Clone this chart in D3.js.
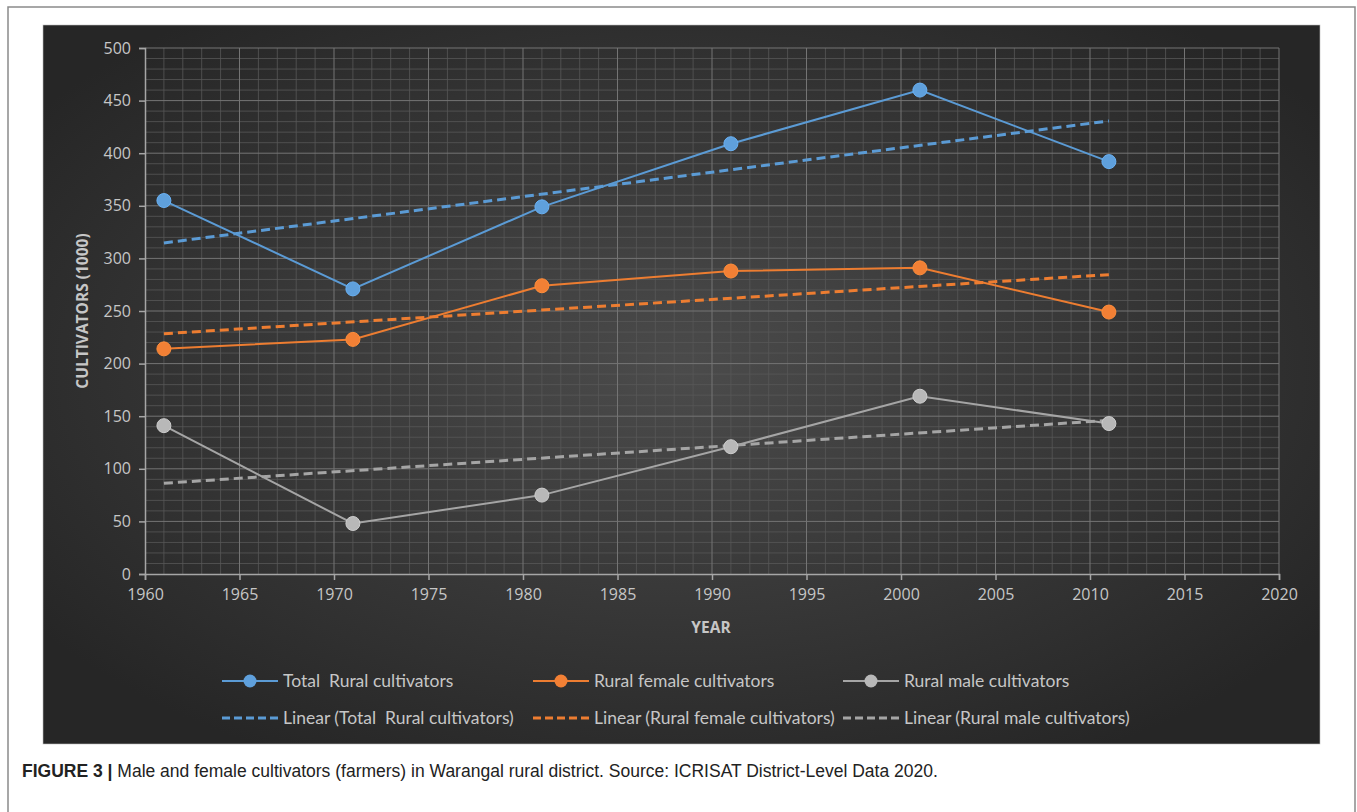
<!DOCTYPE html>
<html lang="en">
<head>
<meta charset="UTF-8">
<title>Warangal rural cultivators</title>
<script src="https://cdnjs.cloudflare.com/ajax/libs/d3/7.8.5/d3.min.js"></script>
<style>
    body { margin: 0; background: #fff; }
    svg { display: block; }
    text { white-space: pre; }
    .tick text { fill: #c6c6c6; font-family: 'Open Sans', sans-serif; font-size: 16px; }
    .legend text { fill: #c6c6c6; font-family: Lato, 'Open Sans', sans-serif; font-size: 17.5px; }
    .axis-title { fill: #c6c6c6; font-family: 'Open Sans', sans-serif; font-size: 15.5px; font-weight: bold; }
    .caption { font-family: 'Liberation Sans Narrow', 'Liberation Sans', sans-serif; font-size: 17.5px; fill: #222; }
</style>
</head>
<body>
<svg id="chart" width="1357" height="812"></svg>
<script>
    // census years and cultivators (in 1000)
    const years = [1961, 1971, 1981, 1991, 2001, 2011];
    const totalRural = [355, 271, 349, 409, 460, 392];
    const femaleRural = [214, 223, 274, 288, 291, 249];
    const maleRural = [141, 48, 75, 121, 169, 143];

    const xTicks = [1960, 1965, 1970, 1975, 1980, 1985, 1990, 1995, 2000, 2005, 2010, 2015, 2020];
    const yTicks = [0, 50, 100, 150, 200, 250, 300, 350, 400, 450, 500];

    const series = [
        { name: "Total  Rural cultivators", values: totalRural, color: "#5b9bd5", marker: "#5fa0dc" },
        { name: "Rural female cultivators", values: femaleRural, color: "#ed7d31", marker: "#f28035" },
        { name: "Rural male cultivators", values: maleRural, color: "#a5a5a5", marker: "#b8b8b8" }
    ];

    const svg = d3.select("#chart");

    // outer frame + dark panel
    svg.append("rect").attr("x", 8).attr("y", 7).attr("width", 1347).attr("height", 820)
        .attr("fill", "none").attr("stroke", "#8a8a8a").attr("stroke-width", 1.5);

    const defs = svg.append("defs");
    const grad = defs.append("radialGradient").attr("id", "bg")
        .attr("cx", "50%").attr("cy", "48%").attr("r", "62%");
    grad.append("stop").attr("offset", "0%").attr("stop-color", "#4b4b4b");
    grad.append("stop").attr("offset", "100%").attr("stop-color", "#262626");

    svg.append("rect").attr("x", 43).attr("y", 25).attr("width", 1277).attr("height", 719)
        .attr("fill", "url(#bg)").attr("stroke", "#bdbdbd").attr("stroke-width", 0.6);

    const x = d3.scaleLinear().domain([1960, 2020]).range([145, 1279]);
    const y = d3.scaleLinear().domain([0, 500]).range([574, 48]);

    const g = svg.append("g");

    // minor grid
    g.append("g").selectAll("line").data(d3.range(1961, 2020).filter(d => d % 5 !== 0))
        .join("line")
        .attr("x1", d => x(d)).attr("x2", d => x(d)).attr("y1", y(0)).attr("y2", y(500))
        .attr("stroke", "#585858").attr("stroke-width", 0.8);
    g.append("g").selectAll("line").data(d3.range(10, 500, 10).filter(d => d % 50 !== 0))
        .join("line")
        .attr("x1", x(1960)).attr("x2", x(2020)).attr("y1", d => y(d)).attr("y2", d => y(d))
        .attr("stroke", "#585858").attr("stroke-width", 0.8);

    // major grid
    g.append("g").selectAll("line").data(xTicks.slice(1))
        .join("line")
        .attr("x1", d => x(d)).attr("x2", d => x(d)).attr("y1", y(0)).attr("y2", y(500))
        .attr("stroke", "#747474").attr("stroke-width", 1);
    g.append("g").selectAll("line").data(yTicks.slice(1))
        .join("line")
        .attr("x1", x(1960)).attr("x2", x(2020)).attr("y1", d => y(d)).attr("y2", d => y(d))
        .attr("stroke", "#747474").attr("stroke-width", 1);

    // axes
    const xAxis = svg.append("g").attr("transform", `translate(0,${y(0)})`)
        .call(d3.axisBottom(x).tickValues(xTicks).tickFormat(d3.format("d")).tickSize(6).tickPadding(9));
    const yAxis = svg.append("g").attr("transform", `translate(${x(1960)},0)`)
        .call(d3.axisLeft(y).tickValues(yTicks).tickSize(6).tickPadding(8));
    [xAxis, yAxis].forEach(a => {
        a.select(".domain").attr("stroke", "#a6a6a6").attr("stroke-width", 1.5);
        a.selectAll(".tick line").attr("stroke", "#a6a6a6").attr("stroke-width", 1.5);
    });

    svg.append("text").attr("class", "axis-title")
        .attr("transform", `translate(88,${y(250)}) rotate(-90)`)
        .attr("text-anchor", "middle").text("CULTIVATORS (1000)");
    svg.append("text").attr("class", "axis-title")
        .attr("x", 711).attr("y", 633).attr("text-anchor", "middle").text("YEAR");

    // least-squares trend like Excel's linear trendline
    function trend(vals) {
        const mx = d3.mean(years), my = d3.mean(vals);
        const sxy = d3.sum(years, (d, i) => (d - mx) * (vals[i] - my));
        const sxx = d3.sum(years, d => (d - mx) * (d - mx));
        const b = sxy / sxx, a = my - b * mx;
        return [years[0], years[years.length - 1]].map(t => [t, a + b * t]);
    }

    const line = d3.line().x(d => x(d[0])).y(d => y(d[1]));

    series.forEach(s => {
        g.append("path").datum(trend(s.values))
            .attr("d", line).attr("fill", "none")
            .attr("stroke", s.color).attr("stroke-width", 3)
            .attr("stroke-dasharray", "9,5");
    });

    series.forEach(s => {
        const pts = years.map((yr, i) => [yr, s.values[i]]);
        g.append("path").datum(pts)
            .attr("d", line).attr("fill", "none")
            .attr("stroke", s.color).attr("stroke-width", 2);
        g.append("g").selectAll("circle").data(pts).join("circle")
            .attr("cx", d => x(d[0])).attr("cy", d => y(d[1])).attr("r", 7)
            .attr("fill", s.marker).attr("stroke", d3.color(s.marker).brighter(0.3)).attr("stroke-width", 1);
    });

    // legend
    const legX = [222, 533, 843];
    const leg = svg.append("g").attr("class", "legend");
    series.forEach((s, i) => {
        const row1 = leg.append("g").attr("transform", `translate(${legX[i]},681)`);
        row1.append("line").attr("x1", 0).attr("x2", 56).attr("stroke", s.color).attr("stroke-width", 2);
        row1.append("circle").attr("cx", 28).attr("r", 6.5).attr("fill", s.marker);
        row1.append("text").attr("x", 61).attr("dy", "0.35em").text(s.name);

        const row2 = leg.append("g").attr("transform", `translate(${legX[i]},718)`);
        row2.append("line").attr("x1", 0).attr("x2", 56).attr("stroke", s.color).attr("stroke-width", 3)
            .attr("stroke-dasharray", "8,4");
        row2.append("text").attr("x", 61).attr("dy", "0.35em").text(`Linear (${s.name})`);
    });

    // caption
    const cap = svg.append("text").attr("class", "caption").attr("x", 22).attr("y", 777);
    cap.append("tspan").attr("font-weight", "bold").text("FIGURE 3 | ");
    cap.append("tspan").text("Male and female cultivators (farmers) in Warangal rural district. Source: ICRISAT District-Level Data 2020.");
</script>
</body>
</html>
